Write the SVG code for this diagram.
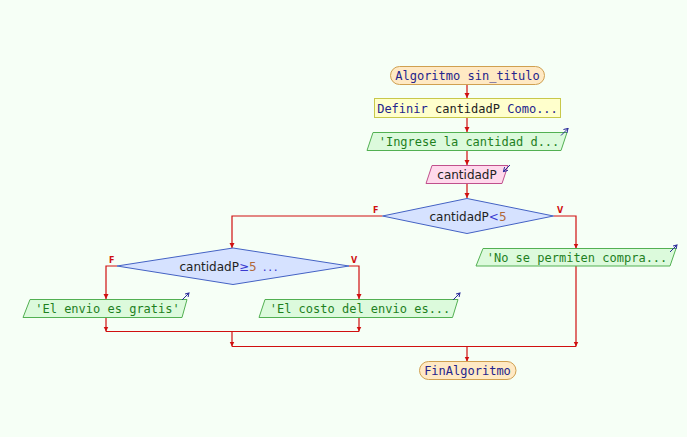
<svg xmlns="http://www.w3.org/2000/svg" width="687" height="437" viewBox="0 0 687 437">
<defs>
<marker id="ar" markerUnits="userSpaceOnUse" markerWidth="6" markerHeight="6" refX="5" refY="3" orient="auto">
<path d="M0,0.5 L5,3 L0,5.5 z" fill="#d01010"/>
</marker>
<marker id="io" markerUnits="userSpaceOnUse" markerWidth="5" markerHeight="5" refX="4" refY="2.5" orient="auto">
<path d="M0,0 L4,2.5 L0,5" fill="none" stroke="#2a2a9a" stroke-width="1"/>
</marker>
<style>
.mono{font-family:"DejaVu Sans Mono","Liberation Mono",monospace;font-size:12px}
.sans{font-family:"DejaVu Sans","Liberation Sans",sans-serif;font-size:12px}
.term{fill:#ffe9c4;stroke:#d0a050;stroke-width:1}
.def{fill:#ffffcc;stroke:#c8c84a;stroke-width:1}
.out{fill:#dcfadc;stroke:#52b052;stroke-width:1}
.in{fill:#ffd9ec;stroke:#c0508c;stroke-width:1}
.dec{fill:#d6e2ff;stroke:#4462c4;stroke-width:1}
.kw{fill:#24248c}
.otx{fill:#1e801e}
.dtx{fill:#222}
.op{fill:#3a3ad0}
.num{fill:#b06838}
.icon{stroke:#2a2a9a;stroke-width:1;fill:none}
.cn{stroke:#d01010;stroke-width:1.2;fill:none}
.lbl{font-family:"DejaVu Sans","Liberation Sans",sans-serif;font-size:8px;font-weight:bold;fill:#d01010}
</style>
</defs>
<rect x="0" y="0" width="687" height="437" fill="#f6fff6"/>

<g id="connectors">
<line class="cn" x1="467" y1="84.5" x2="467" y2="98" marker-end="url(#ar)"/>
<line class="cn" x1="467" y1="117.5" x2="467" y2="132" marker-end="url(#ar)"/>
<line class="cn" x1="467" y1="150.5" x2="467" y2="165" marker-end="url(#ar)"/>
<line class="cn" x1="467" y1="183.5" x2="467" y2="198" marker-end="url(#ar)"/>
<polyline class="cn" points="382.5,216 232,216 232,248" marker-end="url(#ar)"/>
<polyline class="cn" points="553.5,216 576,216 576,248.5" marker-end="url(#ar)"/>
<polyline class="cn" points="117,266 106,266 106,299" marker-end="url(#ar)"/>
<polyline class="cn" points="349,266 359,266 359,299" marker-end="url(#ar)"/>
<line class="cn" x1="106" y1="317.5" x2="106" y2="331.5" marker-end="url(#ar)"/>
<line class="cn" x1="359" y1="317.5" x2="359" y2="331.5" marker-end="url(#ar)"/>
<line class="cn" x1="106" y1="331.5" x2="359" y2="331.5"/>
<line class="cn" x1="232" y1="331.5" x2="232" y2="346.5" marker-end="url(#ar)"/>
<line class="cn" x1="576" y1="266" x2="576" y2="346.5" marker-end="url(#ar)"/>
<line class="cn" x1="232" y1="346.5" x2="576" y2="346.5"/>
<line class="cn" x1="467" y1="346.5" x2="467" y2="361.5" marker-end="url(#ar)"/>
<text class="lbl" x="373" y="213">F</text>
<text class="lbl" x="557" y="213">V</text>
<text class="lbl" x="109" y="263">F</text>
<text class="lbl" x="351" y="263">V</text>
</g>

<g id="inicio">
<rect class="term" x="390.5" y="66.5" width="154" height="18" rx="9"/>
<text class="mono kw" x="467.5" y="79.5" text-anchor="middle">Algoritmo sin_titulo</text>
</g>

<g id="definir">
<rect class="def" x="374.5" y="98.5" width="186" height="19"/>
<text class="mono" x="467.5" y="112.5" text-anchor="middle"><tspan class="kw">Definir</tspan><tspan fill="#222"> cantidadP </tspan><tspan class="kw">Como...</tspan></text>
</g>

<g id="escribir1">
<polygon class="out" points="373,132.5 567,132.5 561,150.5 367,150.5"/>
<text class="mono otx" x="469" y="145.5" text-anchor="middle">'Ingrese la cantidad d...</text>
<line class="icon" x1="561" y1="135.5" x2="568" y2="128.5" marker-end="url(#io)"/>
</g>

<g id="leer">
<polygon class="in" points="432,165.5 508,165.5 502,183.5 426,183.5"/>
<text class="sans dtx" x="467" y="178.5" text-anchor="middle">cantidadP</text>
<line class="icon" x1="510" y1="165" x2="503.5" y2="171.5" marker-end="url(#io)"/>
</g>

<g id="si1">
<polygon class="dec" points="382.5,216 467,198.5 553.5,216 467,233.5"/>
<text class="sans dtx" x="468" y="220.5" text-anchor="middle">cantidadP<tspan class="op">&lt;</tspan><tspan class="num">5</tspan></text>
</g>

<g id="escribir_no">
<polygon class="out" points="483,248.5 676,248.5 670,266 476,266"/>
<text class="mono otx" x="577" y="261.5" text-anchor="middle">'No se permiten compra...</text>
<line class="icon" x1="670" y1="252" x2="677" y2="245" marker-end="url(#io)"/>
</g>

<g id="si2">
<polygon class="dec" points="117,266 233,248 349,266 233,284.5"/>
<text class="sans dtx" x="179.5" y="270.5">cantidadP<tspan class="op">≥</tspan><tspan class="num">5</tspan><tspan fill="#3a3ad0" dx="6" letter-spacing="1.7">...</tspan></text>
</g>

<g id="escribir_gratis">
<polygon class="out" points="30,299.5 187,299.5 182,317.5 23,317.5"/>
<text class="mono otx" x="107.5" y="312.5" text-anchor="middle">'El envio es gratis'</text>
<line class="icon" x1="182" y1="300" x2="189" y2="293" marker-end="url(#io)"/>
</g>

<g id="escribir_costo">
<polygon class="out" points="265,299.5 458,299.5 452.5,317.5 259,317.5"/>
<text class="mono otx" x="360" y="312.5" text-anchor="middle">'El costo del envio es...</text>
<line class="icon" x1="453" y1="300" x2="460" y2="293" marker-end="url(#io)"/>
</g>

<g id="fin">
<rect class="term" x="419.5" y="361.5" width="96.5" height="18" rx="9"/>
<text class="mono kw" x="467.5" y="374.5" text-anchor="middle">FinAlgoritmo</text>
</g>
</svg>
